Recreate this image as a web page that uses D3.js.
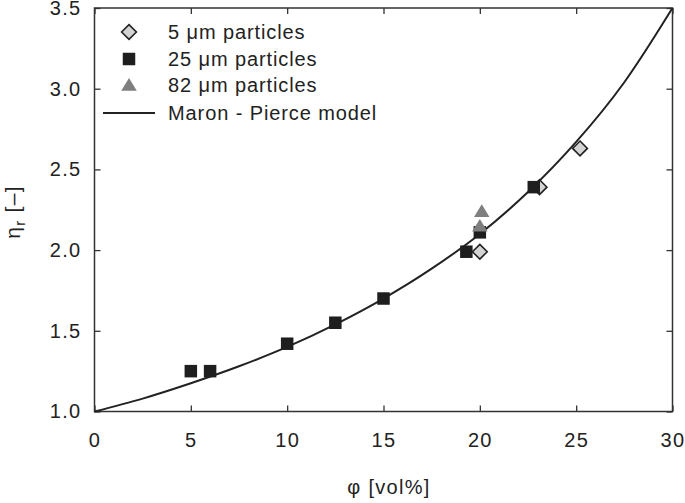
<!DOCTYPE html>
<html><head><meta charset="utf-8">
<script src="https://cdn.jsdelivr.net/npm/d3@7"></script>
<style>
body{margin:0;background:#fff}
text{font-family:"Liberation Sans",Arial,Helvetica,sans-serif;fill:#222}
</style>
</head><body>
<svg id="c" width="685" height="503"></svg>
<script>
// ---- data ----
const xTicks = [0, 5, 10, 15, 20, 25, 30];
const yTicks = [1.0, 1.5, 2.0, 2.5, 3.0, 3.5];
const p5x  = [20.0, 23.1, 25.2];
const p5y  = [1.99, 2.39, 2.63];
const p25x = [5.0, 6.0, 10.0, 12.5, 15.0, 19.3, 20.0, 22.8];
const p25y = [1.25, 1.25, 1.42, 1.55, 1.70, 1.99, 2.11, 2.39];
const p82x = [20.0, 20.1];
const p82y = [2.15, 2.24];
const modelX = [0, 2.5, 5, 7.5, 10, 12.5, 15, 17.5, 20, 22.5, 25, 27.5, 30];
const modelY = [1.00, 1.08, 1.175, 1.28, 1.40, 1.54, 1.70, 1.885, 2.10, 2.36, 2.67, 3.04, 3.50];
const legendLabels = ["5 μm particles", "25 μm particles", "82 μm particles", "Maron - Pierce model"];

// ---- layout ----
const L = 94.5, R = 672.5, T = 8, B = 411.5;
const svg = d3.select("#c");
const x = d3.scaleLinear().domain([0, 30]).range([L, R]);
const y = d3.scaleLinear().domain([1.0, 3.5]).range([B, T]);

const ink = "#222";
const fs = "20px";
const ls = "1.3px";

// custom symbols
const diamond = {draw(ctx, s){ const r = Math.sqrt(s); ctx.moveTo(0,-r); ctx.lineTo(r,0); ctx.lineTo(0,r); ctx.lineTo(-r,0); ctx.closePath(); }};
const tri = {draw(ctx, s){ const w = Math.sqrt(s); const h = w*0.82; ctx.moveTo(0,-h*0.55); ctx.lineTo(w/2,h*0.45); ctx.lineTo(-w/2,h*0.45); ctx.closePath(); }};
const sq = {draw(ctx, s){ const a = Math.sqrt(s)/2; ctx.rect(-a,-a,2*a,2*a); }};
const symDiamond = d3.symbol().type(diamond).size(7.4*7.4);
const symSquare = d3.symbol().type(sq).size(12.5*12.5);
const symTri = d3.symbol().type(tri).size(15.5*15.5);

// axes
const axB = svg.append("g").attr("transform", `translate(0,${B})`)
  .call(d3.axisBottom(x).tickValues(xTicks).tickFormat(d3.format("d")).tickSizeInner(-6).tickSizeOuter(0).tickPadding(21.5));
const axT = svg.append("g").attr("transform", `translate(0,${T})`)
  .call(d3.axisTop(x).tickValues(xTicks).tickFormat("").tickSizeInner(-6).tickSizeOuter(0));
const axL = svg.append("g").attr("transform", `translate(${L},0)`)
  .call(d3.axisLeft(y).tickValues(yTicks).tickFormat(d3.format(".1f")).tickSizeInner(-6).tickSizeOuter(0).tickPadding(13));
const axR = svg.append("g").attr("transform", `translate(${R},0)`)
  .call(d3.axisRight(y).tickValues(yTicks).tickFormat("").tickSizeInner(-6).tickSizeOuter(0));
[axB, axT, axL, axR].forEach(g => {
  g.select(".domain").remove();
  g.selectAll(".tick line").attr("stroke", "#333").attr("stroke-width", 1.3);
  g.selectAll("text").attr("font-size", fs).attr("letter-spacing", ls).attr("fill", ink)
    .attr("font-family", '"Liberation Sans",Arial,sans-serif');
});

// frame
svg.append("rect").attr("x", L).attr("y", T).attr("width", R - L).attr("height", B - T)
  .attr("fill", "none").attr("stroke", "#333").attr("stroke-width", 1.5);

// model curve
const line = d3.line().x(i => x(modelX[i])).y(i => y(modelY[i])).curve(d3.curveMonotoneX);
svg.append("path").attr("d", line(d3.range(modelX.length)))
  .attr("fill", "none").attr("stroke", ink).attr("stroke-width", 2);

// points
svg.append("g").selectAll("path").data(d3.range(p5x.length)).join("path")
  .attr("transform", i => `translate(${x(p5x[i])},${y(p5y[i])})`)
  .attr("d", symDiamond).attr("fill", "#d4d4d4").attr("stroke", ink).attr("stroke-width", 1.6);
svg.append("g").selectAll("path").data(d3.range(p25x.length)).join("path")
  .attr("transform", i => `translate(${x(p25x[i])},${y(p25y[i])})`)
  .attr("d", symSquare).attr("fill", "#1e1e1e");
svg.append("g").selectAll("path").data(d3.range(p82x.length)).join("path")
  .attr("transform", i => `translate(${x(p82x[i])},${y(p82y[i])})`)
  .attr("d", symTri).attr("fill", "#7f7f7f");

// legend
const lg = svg.append("g");
const lgY = [32, 59, 85, 113];
lg.append("path").attr("transform", `translate(129,${lgY[0]})`).attr("d", symDiamond)
  .attr("fill", "#d4d4d4").attr("stroke", ink).attr("stroke-width", 1.6);
lg.append("path").attr("transform", `translate(129,${lgY[1]})`).attr("d", symSquare).attr("fill", "#1e1e1e");
lg.append("path").attr("transform", `translate(129,${lgY[2]})`).attr("d", symTri).attr("fill", "#7f7f7f");
lg.append("line").attr("x1", 103).attr("x2", 155).attr("y1", lgY[3]).attr("y2", lgY[3])
  .attr("stroke", ink).attr("stroke-width", 2);
lg.selectAll("text").data(legendLabels).join("text")
  .attr("x", 168).attr("y", (d, i) => lgY[i]).attr("dy", "0.35em")
  .attr("font-size", fs).attr("letter-spacing", "0.9px").text(d => d);

// axis titles
svg.append("text").attr("x", 389).attr("y", 494).attr("text-anchor", "middle")
  .attr("font-size", fs).attr("letter-spacing", ls).text("φ [vol%]");
const yt = svg.append("text").attr("transform", "translate(20,212) rotate(-90)")
  .attr("text-anchor", "middle").attr("font-size", "21px").attr("letter-spacing", ls);
yt.append("tspan").text("η");
yt.append("tspan").attr("font-size", "15px").attr("dy", "5").text("r");
yt.append("tspan").attr("dy", "-5").text(" [–]");
</script>
</body></html>
